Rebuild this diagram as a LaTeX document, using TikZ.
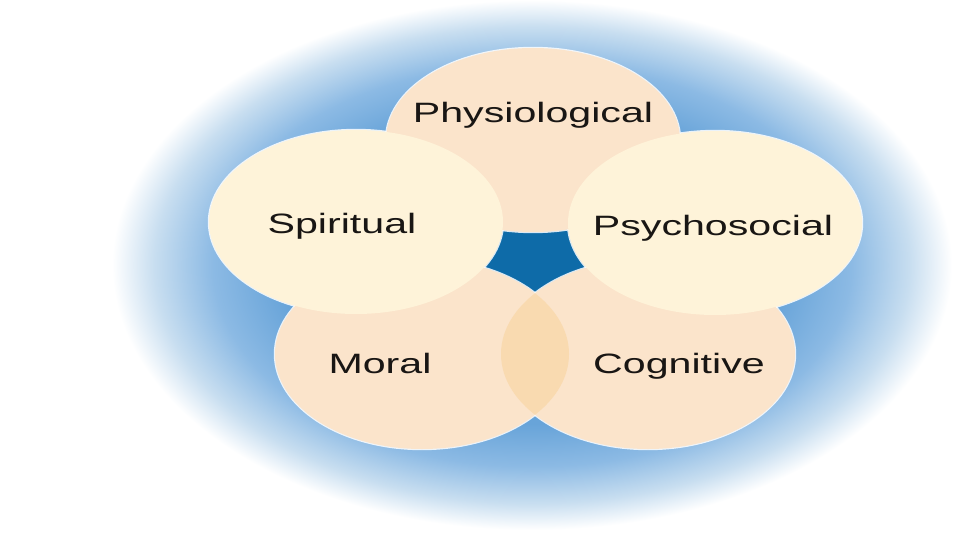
\documentclass[tikz,border=0pt]{standalone}
\usepackage{fontspec}
\setmainfont{Liberation Sans}
\usetikzlibrary{shapes.geometric}
\definecolor{haloA}{RGB}{88,152,208}
\definecolor{haloB}{RGB}{104,164,217}
\definecolor{haloM}{RGB}{140,186,228}
\definecolor{haloC}{RGB}{200,222,240}
\definecolor{peach}{RGB}{251,228,203}
\definecolor{cream}{RGB}{254,243,217}
\definecolor{lensc}{RGB}{249,218,176}
\definecolor{core}{RGB}{14,107,168}
\definecolor{ink}{RGB}{25,22,20}
\pgfdeclareradialshading{halo}{\pgfpoint{0bp}{0bp}}{color(0bp)=(haloA); color(15bp)=(haloB); color(19bp)=(haloM); color(22.5bp)=(haloC); color(25bp)=(white); color(50bp)=(white)}
\begin{document}
\begin{tikzpicture}[x=1pt,y=-1pt,
  rim/.style={draw=white, line width=2.4pt, opacity=0.85},
  lbl/.style={font=\fontsize{28}{32}\selectfont, text=ink, anchor=base, inner sep=0pt}]
\fill[white] (0,0) rectangle (960,540);
\useasboundingbox (0,0) rectangle (960,540);
% halo
\shade[shading=halo] (532,265) ellipse [x radius=420pt, y radius=265pt];
% central gap
\fill[core] (535,262) circle [radius=60pt];
% rims
\path[rim] (533,140) ellipse [x radius=147pt, y radius=92pt];
\path[rim] (422,354) ellipse [x radius=147pt, y radius=95pt];
\path[rim] (648,354) ellipse [x radius=147pt, y radius=95pt];
\path[rim] (356,222) ellipse [x radius=147pt, y radius=92pt];
\path[rim] (715,223) ellipse [x radius=147pt, y radius=92pt];
% petals
\fill[peach] (533,140) ellipse [x radius=147pt, y radius=92pt];
\fill[peach] (422,354) ellipse [x radius=147pt, y radius=95pt];
\fill[peach] (648,354) ellipse [x radius=147pt, y radius=95pt];
\begin{scope}
  \clip (422,354) ellipse [x radius=147pt, y radius=95pt];
  \fill[lensc] (648,354) ellipse [x radius=147pt, y radius=95pt];
\end{scope}
\fill[cream] (356,222) ellipse [x radius=147pt, y radius=92pt];
\fill[cream] (715,223) ellipse [x radius=147pt, y radius=92pt];
% labels
\node[lbl] (phys) at (533,123) {\scalebox{1.47}[1]{Physiological}};
\node[lbl] (spir) at (342,233) {\scalebox{1.47}[1]{Spiritual}};
\node[lbl] (psych) at (713,235) {\scalebox{1.47}[1]{Psychosocial}};
\node[lbl] (moral) at (380,373) {\scalebox{1.47}[1]{Moral}};
\node[lbl] (cog) at (679,373) {\scalebox{1.47}[1]{Cognitive}};
\end{tikzpicture}
\end{document}
